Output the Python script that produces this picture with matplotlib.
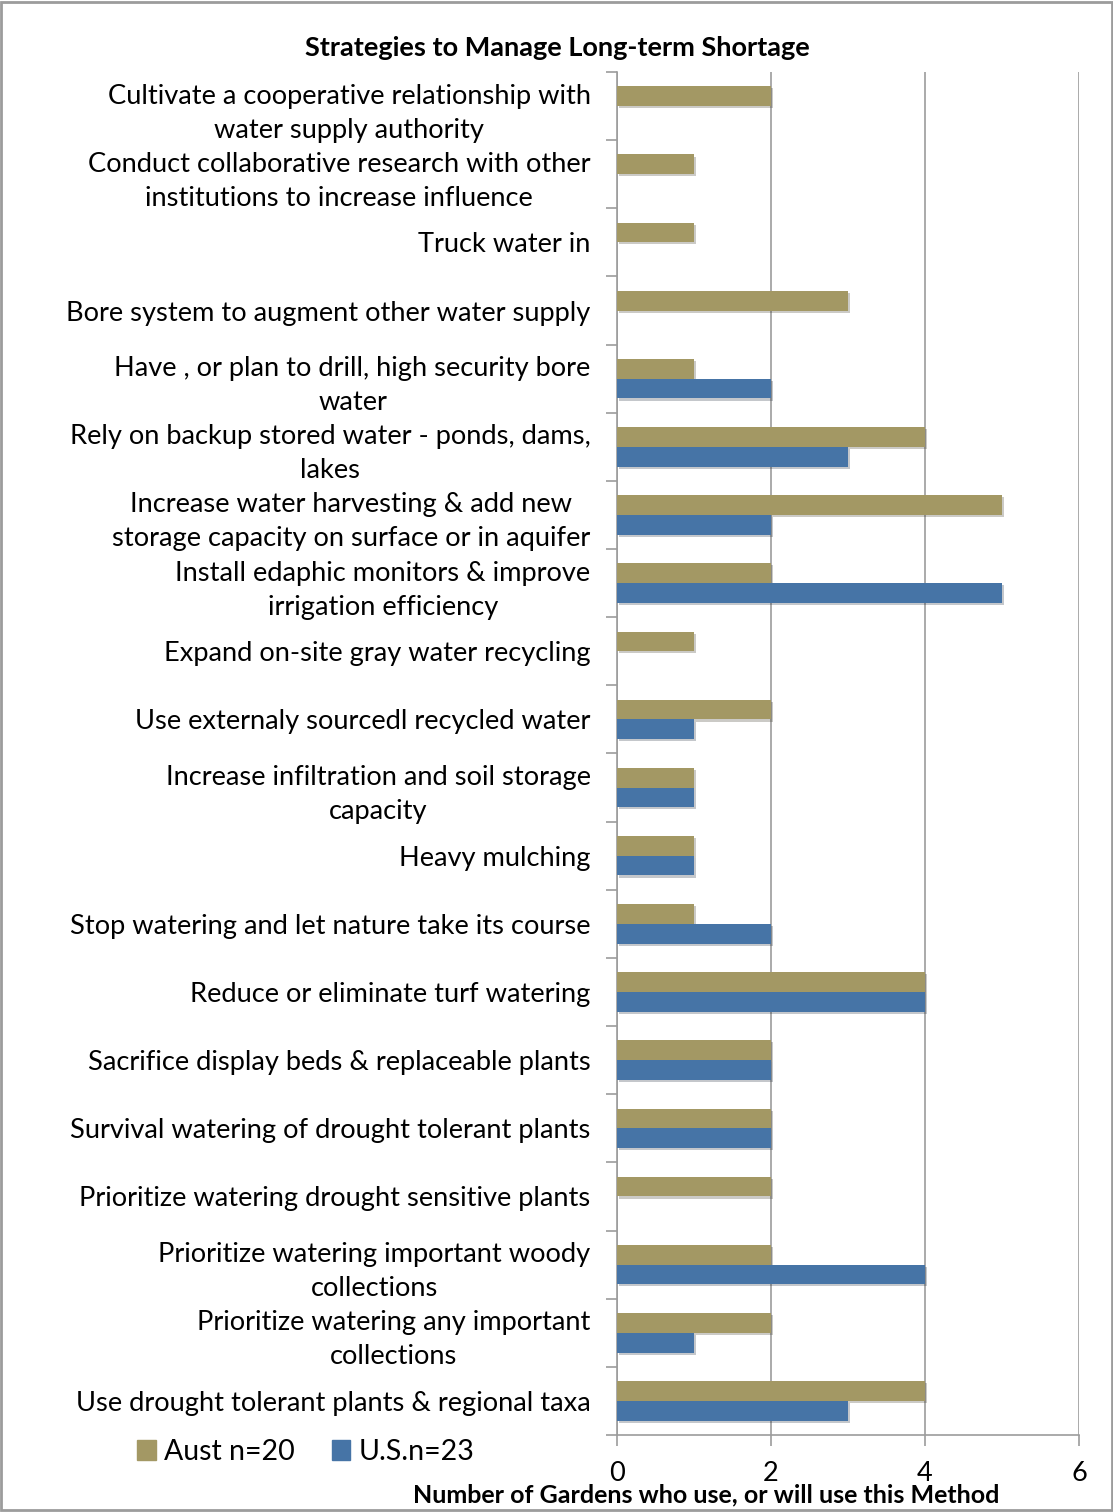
import numpy as np
import matplotlib
matplotlib.use('Agg')
import matplotlib.pyplot as plt
from matplotlib.patches import Patch, Rectangle
import matplotlib.patheffects as pe

plt.rcParams['font.family'] = ['Lato', 'DejaVu Sans']

# survey answers, top row first
strategies = [
    'Cultivate a cooperative relationship with\nwater supply authority',
    'Conduct collaborative research with other\ninstitutions to increase influence',
    'Truck water in',
    'Bore system to augment other water supply',
    'Have , or plan to drill, high security bore\nwater',
    'Rely on backup stored water - ponds, dams,\nlakes',
    'Increase water harvesting & add new\nstorage capacity on surface or in aquifer',
    'Install edaphic monitors & improve\nirrigation efficiency',
    'Expand on-site gray water recycling',
    'Use externaly sourcedl recycled water',
    'Increase infiltration and soil storage\ncapacity',
    'Heavy mulching',
    'Stop watering and let nature take its course',
    'Reduce or eliminate turf watering',
    'Sacrifice display beds & replaceable plants',
    'Survival watering of drought tolerant plants',
    'Prioritize watering drought sensitive plants',
    'Prioritize watering important woody\ncollections',
    'Prioritize watering any important\ncollections',
    'Use drought tolerant plants & regional taxa',
]
aust = [2, 1, 1, 3, 1, 4, 5, 2, 1, 2, 1, 1, 1, 4, 2, 2, 2, 2, 2, 4]
us = [0, 0, 0, 0, 2, 3, 2, 5, 0, 1, 1, 1, 2, 4, 2, 2, 0, 4, 1, 3]
series_names = ['Aust n=20', 'U.S.n=23']
colors = ['#A39864', '#4674A6']
xticks = [0, 2, 4, 6]

W, H = 1113, 1512
fig = plt.figure(figsize=(W / 100, H / 100), dpi=100)
ax = fig.add_axes([617 / W, 1 - 1435 / H, 462 / W, 1363 / H])

n = len(strategies)
y = np.arange(n)
bh = 0.29
shadow = [pe.SimplePatchShadow(offset=(1.5, -1.5), alpha=0.25), pe.Normal()]
b1 = ax.barh(y - bh / 2, aust, height=bh, color=colors[0], zorder=3)
b2 = ax.barh(y + bh / 2, us, height=bh, color=colors[1], zorder=3)
for bar in list(b1) + list(b2):
    bar.set_path_effects(shadow)

ax.set_xlim(0, 6)
ax.set_ylim(n - 0.5, -0.5)
ax.set_xticks(xticks)
ax.set_xticklabels([str(t) for t in xticks], fontsize=19.5)
ax.grid(axis='x', color='#9C9C9C', lw=1.2, zorder=0)
ax.set_axisbelow(True)

# boundary ticks on the y axis, names sit on minor ticks at row centres
ax.set_yticks(np.arange(-0.5, n, 1))
ax.set_yticklabels([])
ax.set_yticks(y, strategies, minor=True)
ax.tick_params(axis='y', which='major', length=8, width=1.2, color='#9C9C9C')
ax.tick_params(axis='y', which='minor', length=0, pad=19, labelsize=19.6)
ax.tick_params(axis='x', length=8, width=1.2, color='#9C9C9C', pad=11)
for lbl in ax.get_yticklabels(minor=True):
    lbl.set_multialignment('center')
    lbl.set_linespacing(1.45)

for side in ['top', 'right']:
    ax.spines[side].set_visible(False)
for side in ['left', 'bottom']:
    ax.spines[side].set_color('#9C9C9C')
    ax.spines[side].set_linewidth(1.2)

fig.text(557 / W, 1 - 48 / H, 'Strategies to Manage Long-term Shortage',
         ha='center', va='center', fontsize=19.5, fontweight='bold')
fig.text(706 / W, 1 - 1495 / H, 'Number of Gardens who use, or will use this Method',
         ha='center', va='center', fontsize=18, fontweight='bold')

handles = [Patch(color=c) for c in colors]
fig.legend(handles, series_names, ncol=2, frameon=False, loc='center left',
           bbox_to_anchor=(137 / W, 1 - 1452 / H), fontsize=20.5, borderpad=0,
           borderaxespad=0, handlelength=0.65, handleheight=0.65,
           handletextpad=0.3, columnspacing=1.3)

fig.add_artist(Rectangle((0.001, 0.001), 0.998, 0.998, transform=fig.transFigure,
                         fill=False, edgecolor='#9C9C9C', lw=2))

fig.savefig('out.png', dpi=100)
